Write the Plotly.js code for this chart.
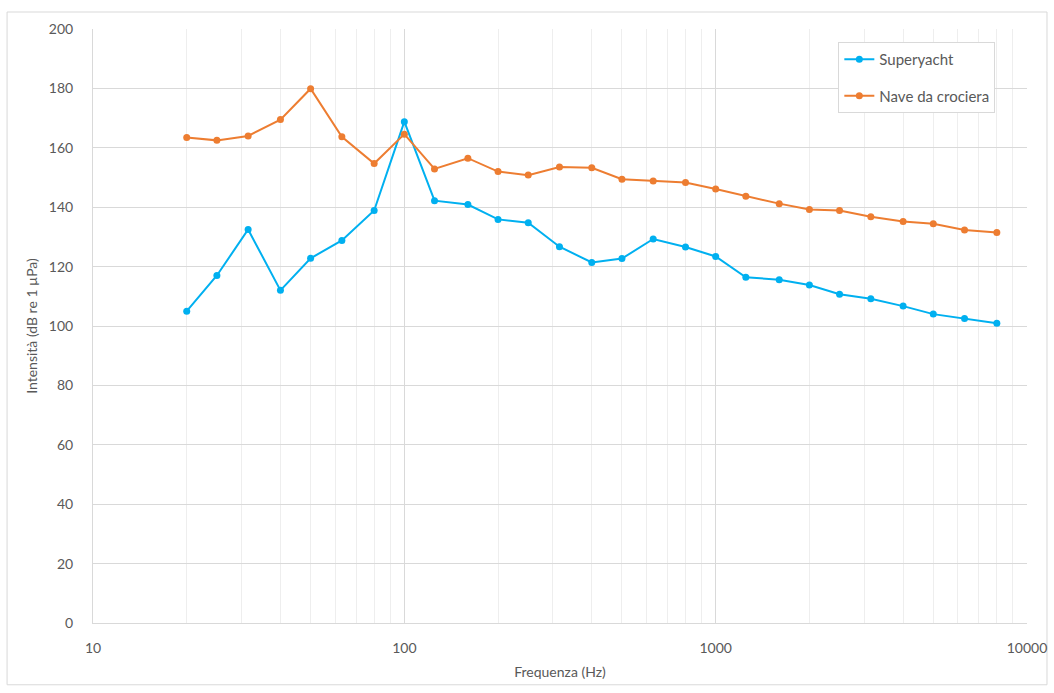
<!DOCTYPE html>
<html>
<head>
<meta charset="utf-8">
<script src="https://cdn.plot.ly/plotly-3.0.1.min.js"></script>
<style>html,body{margin:0;padding:0;background:#fff;}#chart{width:1054px;height:693px;}</style>
</head>
<body>
<div id="chart"></div>
<script>
const frequencies = [20, 25, 31.5, 40, 50, 63, 80, 100, 125, 160, 200, 250, 315, 400, 500, 630, 800, 1000, 1250, 1600, 2000, 2500, 3150, 4000, 5000, 6300, 8000];
const superyacht = [105, 117, 132.5, 112, 122.8, 128.8, 138.9, 168.8, 142.2, 140.9, 135.9, 134.8, 126.7, 121.4, 122.7, 129.3, 126.6, 123.4, 116.4, 115.6, 113.8, 110.7, 109.2, 106.7, 104, 102.5, 100.9];
const cruiseShip = [163.5, 162.5, 164, 169.5, 179.9, 163.7, 154.7, 164.6, 152.9, 156.5, 152, 150.8, 153.5, 153.3, 149.4, 148.8, 148.3, 146.1, 143.7, 141.2, 139.2, 138.9, 136.8, 135.2, 134.4, 132.3, 131.5];
const seriesNames = ["Superyacht", "Nave da crociera"];
const xTitle = "Frequenza (Hz)";
const yTitle = "Intensità (dB re 1 µPa)";

const font = {family: "Lato, 'Open Sans', sans-serif", size: 14, color: "#595959"};
const traces = [
  {x: frequencies, y: superyacht, name: seriesNames[0], legendgroup: "a", type: "scatter", mode: "lines+markers",
   line: {color: "#00b0f0", width: 2}, marker: {color: "#00b0f0", size: 7}},
  {x: frequencies, y: cruiseShip, name: seriesNames[1], legendgroup: "b", type: "scatter", mode: "lines+markers",
   line: {color: "#ed7d31", width: 2}, marker: {color: "#ed7d31", size: 7}}
];
const layout = {
  width: 1054, height: 693,
  margin: {l: 93, r: 27, t: 29, b: 70},
  paper_bgcolor: "#fff", plot_bgcolor: "#fff",
  font: font,
  showlegend: true,
  legend: {x: 0.798, y: 0.978, xanchor: "left", yanchor: "top", bordercolor: "#d9d9d9", borderwidth: 1,
           bgcolor: "#fff", font: {family: font.family, size: 15, color: "#595959"}, tracegroupgap: 14,
           itemwidth: 30},
  xaxis: {type: "log", range: [1, 4], dtick: 1, tickvals: [10, 100, 1000, 10000], ticktext: ["10", "100", "1000", "10000"],
          showgrid: true, gridcolor: "#d9d9d9", gridwidth: 1,
          minor: {showgrid: true, gridcolor: "#eeeeee", gridwidth: 1, dtick: "D1"},
          showline: true, linecolor: "#d9d9d9", ticks: "", zeroline: false, ticklabelstandoff: 12,
          title: {text: xTitle, font: {size: 14, color: "#595959"}, standoff: 12}},
  yaxis: {range: [0, 200], dtick: 20, showgrid: true, gridcolor: "#d9d9d9", gridwidth: 1,
          showline: true, linecolor: "#d9d9d9", ticks: "", zeroline: false, ticklabelstandoff: 16,
          title: {text: yTitle, font: {size: 14, color: "#595959"}, standoff: 7}},
  shapes: [{type: "rect", xref: "paper", yref: "paper", x0: -0.092, x1: 1.0214, y0: -0.104, y1: 1.0286,
            line: {color: "#d9d9d9", width: 1}, fillcolor: "rgba(0,0,0,0)", layer: "below"}]
};
Plotly.newPlot("chart", traces, layout, {displayModeBar: false});
</script>
</body>
</html>
